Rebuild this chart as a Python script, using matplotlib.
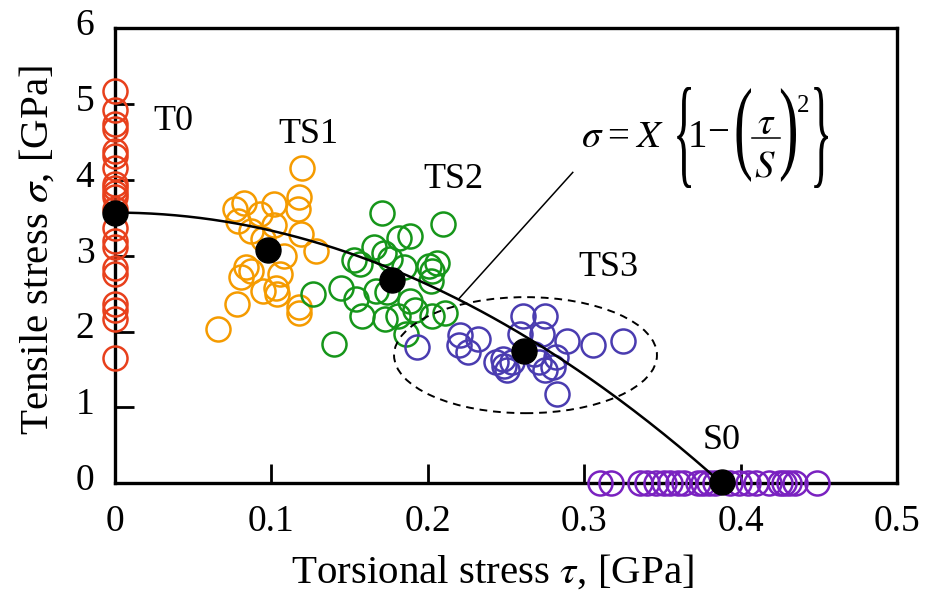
"""
Tensile vs torsional stress scatter with fitted ellipse-type criterion
"""
import matplotlib
matplotlib.use("Agg")
import matplotlib.pyplot as plt
import matplotlib.transforms as mtransforms
from matplotlib.patches import Ellipse, PathPatch
from matplotlib.textpath import TextPath
from matplotlib.font_manager import FontProperties
from matplotlib.path import Path
from matplotlib.lines import Line2D
import numpy as np

plt.rcParams["font.family"] = ["Liberation Serif", "DejaVu Serif"]
plt.rcParams["mathtext.fontset"] = "stix"

W, H = 926, 595

# --- data (tau [GPa], sigma [GPa]) ---
t0_sigma = [5.17, 4.92, 4.74, 4.67, 4.38, 4.32, 4.16, 3.95, 3.89, 3.83, 3.78,
            3.62, 3.37, 3.20, 3.11, 2.84, 2.76, 2.37, 2.28, 2.17, 1.65]

ts1_tau = [0.120, 0.077, 0.083, 0.079, 0.102, 0.118, 0.117, 0.093, 0.087, 0.102,
           0.095, 0.119, 0.129, 0.108, 0.084, 0.087, 0.081, 0.106, 0.095, 0.103,
           0.104, 0.078, 0.118, 0.118, 0.066]
ts1_sigma = [4.16, 3.62, 3.70, 3.46, 3.68, 3.77, 3.62, 3.55, 3.33, 3.40,
             3.22, 3.29, 3.07, 3.00, 2.85, 2.80, 2.72, 2.76, 2.54, 2.58,
             2.50, 2.36, 2.32, 2.25, 2.04]

ts2_tau = [0.171, 0.210, 0.182, 0.189, 0.166, 0.153, 0.157, 0.172, 0.176, 0.185,
           0.201, 0.206, 0.203, 0.202, 0.145, 0.154, 0.167, 0.174, 0.189, 0.158,
           0.173, 0.181, 0.192, 0.203, 0.211, 0.186, 0.140, 0.127]
ts2_sigma = [3.57, 3.42, 3.24, 3.26, 3.11, 2.94, 2.89, 3.04, 2.96, 2.85,
             2.87, 2.91, 2.80, 2.67, 2.58, 2.43, 2.54, 2.52, 2.41, 2.21,
             2.17, 2.21, 2.28, 2.21, 2.25, 1.97, 1.84, 2.50]

ts3_tau = [0.193, 0.221, 0.232, 0.220, 0.226, 0.261, 0.275, 0.259, 0.273, 0.289,
           0.306, 0.325, 0.248, 0.249, 0.251, 0.254, 0.271, 0.275, 0.280, 0.282,
           0.268, 0.283, 0.244]
ts3_sigma = [1.80, 1.95, 1.90, 1.82, 1.73, 2.21, 2.21, 1.97, 1.97, 1.88,
             1.82, 1.88, 1.64, 1.55, 1.49, 1.60, 1.60, 1.49, 1.53, 1.66,
             1.71, 1.18, 1.60]

s0_tau = [0.310, 0.317, 0.336, 0.340, 0.346, 0.351, 0.355, 0.360, 0.364, 0.373,
          0.376, 0.380, 0.384, 0.393, 0.399, 0.405, 0.410, 0.418, 0.425, 0.428,
          0.431, 0.435, 0.449]

mean_tau = [0.0, 0.098, 0.1775, 0.2615, 0.388]
mean_sigma = [3.57, 3.08, 2.68, 1.75, 0.02]

# fitted criterion sigma = X {1 - (tau/S)^2}
X_FIT = 3.57
S_FIT = 0.388

group_labels = ["T0", "TS1", "TS2", "TS3", "S0"]
group_colors = ["#E8401C", "#F59B00", "#16961A", "#4A3CB0", "#7A22C0"]

fig = plt.figure(figsize=(W / 100, H / 100), dpi=100)
ax = fig.add_axes([0.1237, 0.1877, 0.8450, 0.7647])

circ = dict(marker="o", linestyle="none", markersize=17.3, markerfacecolor="none",
            markeredgewidth=1.8, clip_on=False, zorder=3)
ax.plot(np.zeros(len(t0_sigma)), t0_sigma, markeredgecolor=group_colors[0], **circ)
ax.plot(ts1_tau, ts1_sigma, markeredgecolor=group_colors[1], **circ)
ax.plot(ts2_tau, ts2_sigma, markeredgecolor=group_colors[2], **circ)
ax.plot(ts3_tau, ts3_sigma, markeredgecolor=group_colors[3], **circ)
ax.plot(s0_tau, np.zeros(len(s0_tau)), markeredgecolor=group_colors[4], **circ)

tau_fit = np.linspace(0, S_FIT, 200)
ax.plot(tau_fit, X_FIT * (1 - (tau_fit / S_FIT) ** 2), color="black", lw=1.8,
        zorder=4, clip_on=False)
ax.plot(mean_tau, mean_sigma, "o", color="black", markersize=18, zorder=5,
        clip_on=False)

ax.add_patch(Ellipse((0.2626, 1.69), 0.168, 1.53, fill=False, edgecolor="black",
                     lw=1.4, linestyle=(0, (4, 3)), zorder=4))
ax.plot([0.2203, 0.2928], [2.44, 4.10], color="black", lw=1.1, zorder=4)


# --- formula  sigma = X {1 - (tau/S)^2}, laid out in image pixels ---
def ftext(x, y, s, size, ha="left"):
    fig.text(x / W, 1 - y / H, s, fontsize=size, ha=ha, va="baseline")


def delim(ch, x0, x1, y0, y1):
    """tall thin delimiter glyph stretched into a pixel box"""
    tp = TextPath((0, 0), ch, size=100, prop=FontProperties(family="Liberation Serif"))
    v = tp.vertices.copy()
    mn, mx = v.min(axis=0), v.max(axis=0)
    v[:, 0] = x0 + (v[:, 0] - mn[0]) / (mx[0] - mn[0]) * (x1 - x0)
    v[:, 1] = y1 - (v[:, 1] - mn[1]) / (mx[1] - mn[1]) * (y1 - y0)
    v[:, 0] /= W
    v[:, 1] = 1 - v[:, 1] / H
    fig.add_artist(PathPatch(Path(v, tp.codes), transform=fig.transFigure,
                             facecolor="black", edgecolor="none"))


FS = 28
ftext(581, 147, r"$\sigma$", FS)
ftext(607, 147, "=", FS)
ftext(635, 147, r"$X$", FS)
delim("{", 673, 691, 87, 188)
ftext(688, 147, "1", FS)
ftext(707.5, 143, "\u2212", FS)
delim("(", 734, 751, 88, 182)
ftext(766, 134, r"$\tau$", FS, ha="center")
fig.add_artist(Line2D([752 / W, 780 / W], [1 - 137.5 / H] * 2, color="black", lw=1.1))
ftext(765, 176, r"$S$", FS, ha="center")
delim(")", 779, 796, 88, 182)
ftext(797, 112, "2", 18)
delim("}", 810, 828, 87, 188)

label_pos = [(0.0375, 4.77), (0.124, 4.6), (0.2165, 4.0), (0.3155, 2.85), (0.388, 0.57)]
for name, (lx, ly) in zip(group_labels, label_pos):
    ax.text(lx, ly, name, fontsize=26, ha="center", va="center")

ax.set_xlim(0, 0.5)
ax.set_ylim(0, 6)
ax.set_xticks([0, 0.1, 0.2, 0.3, 0.4, 0.5])
ax.set_xticklabels(["0", "0.1", "0.2", "0.3", "0.4", "0.5"])
ax.set_yticks(range(7))
ax.tick_params(axis="both", direction="in", length=14, width=2, labelsize=27)
ax.tick_params(axis="x", pad=15)
ax.tick_params(axis="y", pad=14.5)
for lab in ax.get_yticklabels():
    lab.set_transform(lab.get_transform()
                      + mtransforms.ScaledTranslation(0, 0.065, fig.dpi_scale_trans))
for sp in ax.spines.values():
    sp.set_linewidth(2.4)

ax.set_xlabel(r"Torsional stress $\tau$, [GPa]", fontsize=29.5)
ax.set_ylabel(r"Tensile stress $\sigma$, [GPa]", fontsize=29.5)
ax.xaxis.set_label_coords(0.483, -0.153)
ax.yaxis.set_label_coords(-0.0735, 0.513)

fig.savefig("out.png", dpi=100)
